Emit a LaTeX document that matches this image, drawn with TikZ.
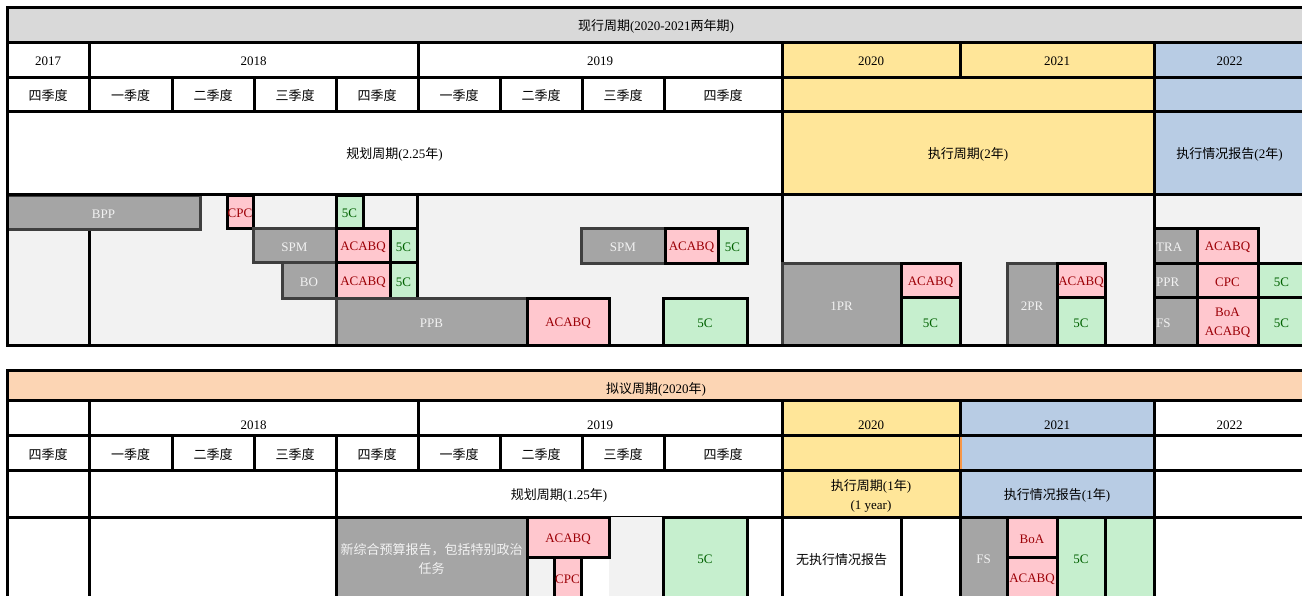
\documentclass[tikz,border=0pt]{standalone}
\usepackage{fontspec}
\setmainfont{Liberation Serif}
\newfontfamily\cjk{Noto Sans CJK SC}
\definecolor{hdrgray}{HTML}{D9D9D9}
\definecolor{panelgray}{HTML}{F2F2F2}
\definecolor{execyel}{HTML}{FFE699}
\definecolor{rptblue}{HTML}{B8CCE4}
\definecolor{propor}{HTML}{FCD5B4}
\definecolor{markor}{HTML}{F79646}
\definecolor{badfill}{HTML}{FFC7CE}
\definecolor{badtext}{HTML}{9C0006}
\definecolor{goodfill}{HTML}{C6EFCE}
\definecolor{goodtext}{HTML}{006100}
\definecolor{chkfill}{HTML}{A5A5A5}
\definecolor{chkline}{HTML}{3F3F3F}
\definecolor{chktext}{HTML}{F2F2F2}
\begin{document}
\begin{tikzpicture}[x=1pt,y=-1pt,
    font=\fontsize{13}{19}\selectfont,
    every node/.style={yshift=-2pt},
    cellbox/.style={draw=black,line width=3pt},
    bad/.style={cellbox,fill=badfill,text=badtext},
    good/.style={cellbox,fill=goodfill,text=goodtext},
    chk/.style={draw=chkline,line width=3pt,fill=chkfill,text=chktext},
    low/.style={yshift=-6pt}]
    \useasboundingbox (0,0) rectangle (1302,595);
    \clip (0,0) rectangle (1302,595);
    \fill[white] (0,0) rectangle (1302,595);
    % current cycle: header
    \draw[cellbox,fill=hdrgray] (7,7) rectangle (1305,42) node[midway] (curTitle) {{\cjk 现行周期}(2020-2021{\cjk 两年期})};
    \draw[cellbox] (7,42) rectangle (89,77) node[midway] (curY17) {2017};
    \draw[cellbox] (89,42) rectangle (418,77) node[midway] (curY18) {2018};
    \draw[cellbox] (418,42) rectangle (782,77) node[midway] (curY19) {2019};
    \draw[cellbox,fill=execyel] (782,42) rectangle (960,77) node[midway] (curY20) {2020};
    \draw[cellbox,fill=execyel] (960,42) rectangle (1154,77) node[midway] (curY21) {2021};
    \draw[cellbox,fill=rptblue] (1154,42) rectangle (1305,77) node[midway] (curY22) {2022};
    \foreach \xa/\xb/\q [count=\i] in {7/89/四,89/172/一,172/254/二,254/336/三,336/418/四,418/500/一,500/582/二,582/664/三,664/782/四}
        \draw[cellbox] (\xa,77) rectangle (\xb,111) node[midway] (curQ\i) {\cjk \q 季度};
    \draw[cellbox,fill=execyel] (782,77) rectangle (1154,111);
    \draw[cellbox,fill=rptblue] (1154,77) rectangle (1305,111);
    \draw[cellbox] (7,111) rectangle (782,194) node[midway] (curPlan) {{\cjk 规划周期}(2.25{\cjk 年})};
    \draw[cellbox,fill=execyel] (782,111) rectangle (1154,194) node[midway] (curExec) {{\cjk 执行周期}(2{\cjk 年})};
    \draw[cellbox,fill=rptblue] (1154,111) rectangle (1305,194) node[midway] (curRep) {{\cjk 执行情况报告}(2{\cjk 年})};
    % current cycle: steps
    \fill[panelgray] (7,194) rectangle (1305,345);
    \draw[cellbox] (89,229) -- (89,345) (417,194) -- (417,297) (782,194) -- (782,263) (1154,194) -- (1154,345);
    \draw[chk] (7,195) rectangle (200,229) node[midway] (bpp) {BPP};
    \draw[bad] (227,195) rectangle (253,228) node[midway] (cpcA) {CPC};
    \draw[good] (336,195) rectangle (363,228) node[midway] (fiveA) {5C};
    \draw[chk] (253,228) rectangle (336,262) node[midway] (spmA) {SPM};
    \draw[bad] (336,228) rectangle (390,262) node[midway] (acabqA) {ACABQ};
    \draw[good] (390,228) rectangle (417,262) node[midway] (fiveB) {5C};
    \draw[chk] (282,262) rectangle (336,298) node[midway] (bo) {BO};
    \draw[bad] (336,262) rectangle (390,298) node[midway] (acabqB) {ACABQ};
    \draw[good] (390,262) rectangle (417,298) node[midway] (fiveC) {5C};
    \draw[chk] (336,298) rectangle (527,345) node[midway] (ppb) {PPB};
    \draw[bad] (527,298) rectangle (609,345) node[midway] (acabqC) {ACABQ};
    \draw[good] (663,298) rectangle (747,345) node[midway] (fiveD) {5C};
    \draw[chk] (581,228) rectangle (665,263) node[midway] (spmB) {SPM};
    \draw[bad] (665,228) rectangle (718,263) node[midway] (acabqD) {ACABQ};
    \draw[good] (718,228) rectangle (747,263) node[midway] (fiveE) {5C};
    \draw[chk] (782,263) rectangle (901,345) node[midway] (prOne) {1PR};
    \draw[bad] (901,263) rectangle (960,297) node[midway] (acabqE) {ACABQ};
    \draw[good] (901,297) rectangle (960,345) node[midway] (fiveF) {5C};
    \draw[chk] (1007,263) rectangle (1057,345) node[midway] (prTwo) {2PR};
    \draw[bad] (1057,263) rectangle (1105,297) node[midway] (acabqF) {ACABQ};
    \draw[good] (1057,297) rectangle (1105,345) node[midway] (fiveG) {5C};
    \draw[chk,draw=black] (1154,228) rectangle (1197,263);
    \draw[chk,draw=black] (1154,263) rectangle (1197,297);
    \draw[chk,draw=black] (1154,297) rectangle (1197,345);
    \node[anchor=west,inner sep=1pt,text=chktext] (tra) at (1155,245.5) {TRA};
    \node[anchor=west,inner sep=1pt,text=chktext] (ppr) at (1155,280) {PPR};
    \node[anchor=west,inner sep=1pt,text=chktext] (fsA) at (1155,321) {FS};
    \draw[bad] (1197,228) rectangle (1258,263) node[midway] (acabqI) {ACABQ};
    \draw[bad] (1197,263) rectangle (1258,297) node[midway] (cpcC) {CPC};
    \draw[bad] (1197,297) rectangle (1258,345) node[midway,align=center] (boaA) {BoA\\ACABQ};
    \draw[good] (1258,263) rectangle (1305,297) node[midway] (fiveJ) {5C};
    \draw[good] (1258,297) rectangle (1305,345) node[midway] (fiveK) {5C};
    \draw[cellbox] (7,194) rectangle (1305,345);
    % proposed cycle: header
    \draw[cellbox,fill=propor] (7,370) rectangle (1305,400) node[midway,yshift=-2pt] (newTitle) {{\cjk 拟议周期}(2020{\cjk 年})};
    \draw[cellbox] (7,400) rectangle (89,435);
    \draw[cellbox] (89,400) rectangle (418,435) node[midway,low] (newY18) {2018};
    \draw[cellbox] (418,400) rectangle (782,435) node[midway,low] (newY19) {2019};
    \draw[cellbox,fill=execyel] (782,400) rectangle (960,435) node[midway,low] (newY20) {2020};
    \draw[cellbox,fill=rptblue] (960,400) rectangle (1154,435) node[midway,low] (newY21) {2021};
    \draw[cellbox] (1154,400) rectangle (1305,435) node[midway,low] (newY22) {2022};
    \foreach \xa/\xb/\q [count=\i] in {7/89/四,89/172/一,172/254/二,254/336/三,336/418/四,418/500/一,500/582/二,582/664/三,664/782/四}
        \draw[cellbox] (\xa,435) rectangle (\xb,470) node[midway] (newQ\i) {\cjk \q 季度};
    \draw[cellbox,fill=execyel] (782,435) rectangle (960,470);
    \draw[cellbox,fill=rptblue] (960,435) rectangle (1154,470);
    \draw[cellbox] (1154,435) rectangle (1305,470);
    \draw[markor,line width=2pt] (961,436.5) -- (961,468.5);
    \draw[cellbox] (7,470) rectangle (89,517);
    \draw[cellbox] (89,470) rectangle (336,517);
    \draw[cellbox] (336,470) rectangle (782,517) node[midway] (newPlan) {{\cjk 规划周期}(1.25{\cjk 年})};
    \draw[cellbox,fill=execyel] (782,470) rectangle (960,517) node[midway,align=center] (newExec) {{\cjk 执行周期}(1{\cjk 年})\\(1 year)};
    \draw[cellbox,fill=rptblue] (960,470) rectangle (1154,517) node[midway] (newRep) {{\cjk 执行情况报告}(1{\cjk 年})};
    \draw[cellbox] (1154,470) rectangle (1305,517);
    % proposed cycle: steps
    \draw[cellbox] (7,517) rectangle (89,598);
    \draw[cellbox] (89,517) rectangle (336,598);
    \fill[panelgray] (527,517) rectangle (663,598);
    \fill[white] (581,557) rectangle (609,598);
    \draw[cellbox,fill=chkfill,text=chktext] (336,517) rectangle (527,598) node[midway,align=center] (omnibus) {{\cjk 新综合预算报告，包括特别政治}\\{\cjk 任务}};
    \draw[bad] (527,517) rectangle (609,557) node[midway] (acabqG) {ACABQ};
    \draw[bad] (554,557) rectangle (581,598) node[midway] (cpcB) {CPC};
    \draw[good] (663,517) rectangle (747,598) node[midway] (fiveH) {5C};
    \draw[cellbox] (782,517) rectangle (901,598) node[midway] (noRep) {\cjk 无执行情况报告};
    \draw[cellbox] (901,517) rectangle (960,598);
    \draw[cellbox,fill=chkfill,text=chktext] (960,517) rectangle (1007,598) node[midway] (fsB) {FS};
    \draw[bad] (1007,517) rectangle (1057,557) node[midway] (boaB) {BoA};
    \draw[bad] (1007,557) rectangle (1057,598) node[midway] (acabqH) {ACABQ};
    \draw[good] (1057,517) rectangle (1105,598) node[midway] (fiveI) {5C};
    \draw[good] (1105,517) rectangle (1154,598);
    \draw[cellbox] (1154,517) rectangle (1305,598);
\end{tikzpicture}
\end{document}
